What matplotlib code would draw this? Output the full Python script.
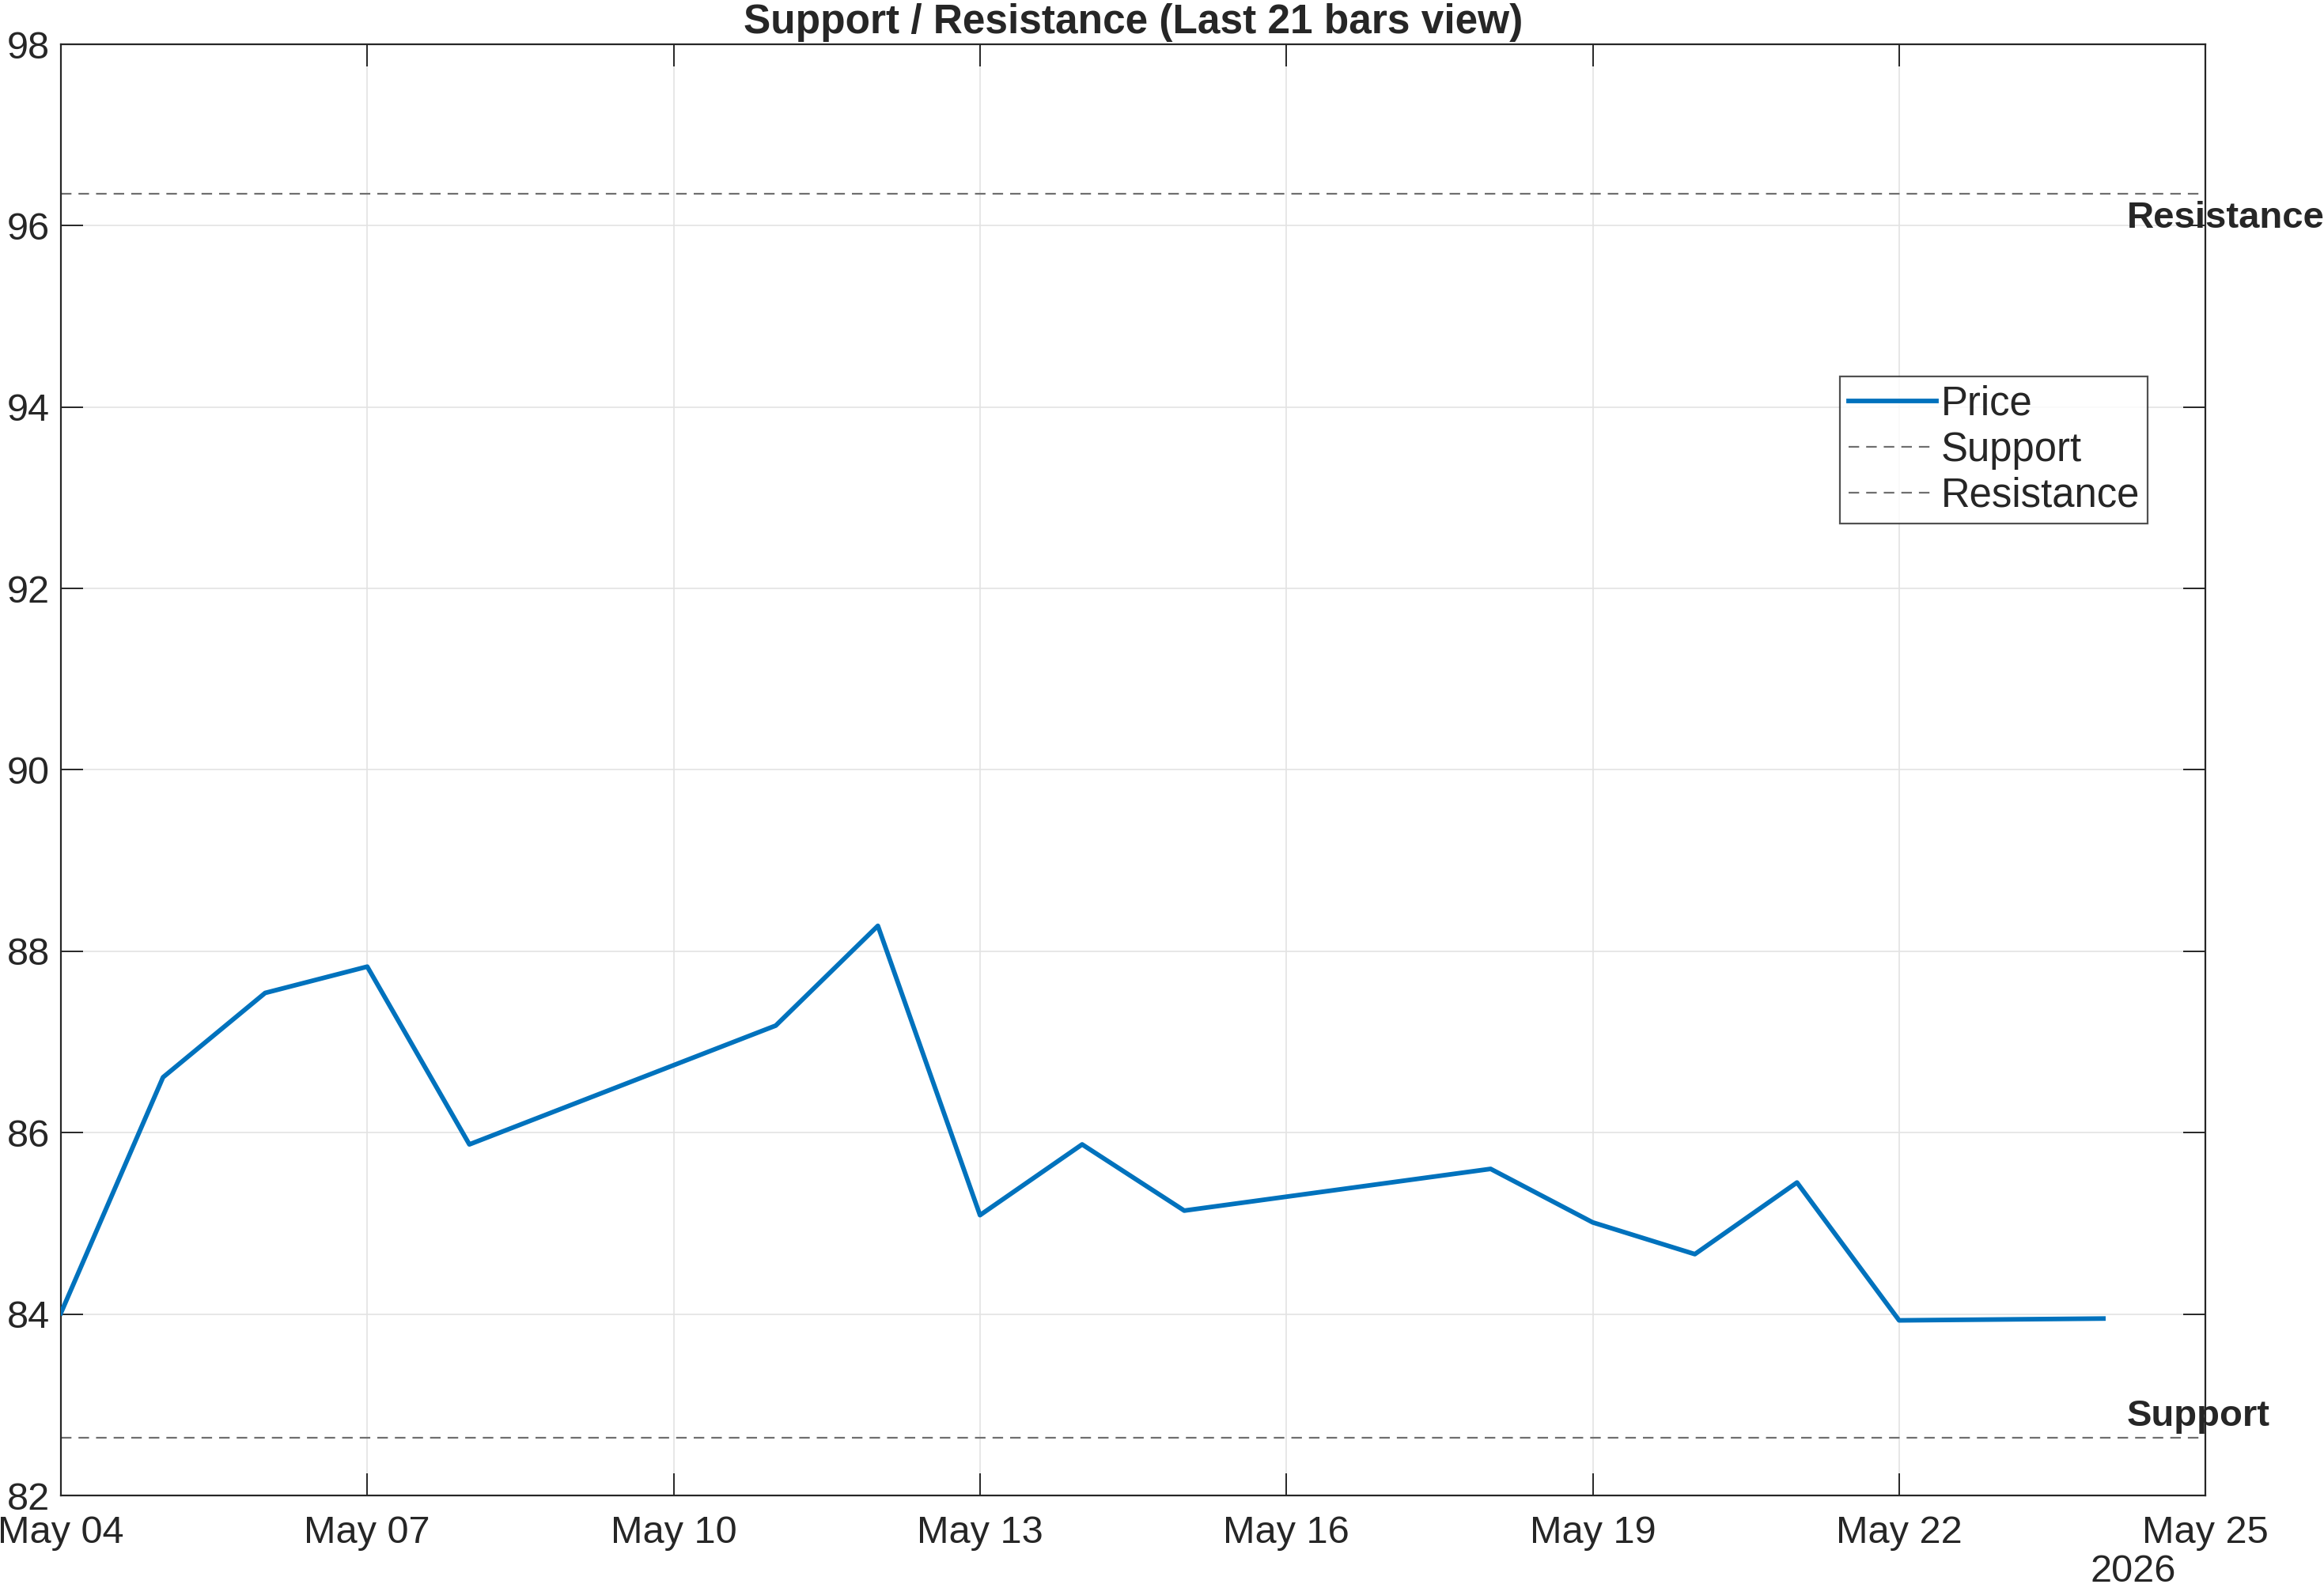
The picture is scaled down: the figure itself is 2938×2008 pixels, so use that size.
import matplotlib.pyplot as plt
import matplotlib.dates as mdates
import numpy as np
import pandas as pd

# data
dates = ['2026-05-04', '2026-05-05', '2026-05-06', '2026-05-07', '2026-05-08',
         '2026-05-11', '2026-05-12', '2026-05-13', '2026-05-14', '2026-05-15',
         '2026-05-18', '2026-05-19', '2026-05-20', '2026-05-21', '2026-05-22',
         '2026-05-24']
prices = [84.01, 86.61, 87.54, 87.83, 85.87,
          87.18, 88.28, 85.09, 85.87, 85.14,
          85.60, 85.01, 84.66, 85.45, 83.93,
          83.95]
support = 82.64
resistance = 96.35
label_x = '2026-05-24 05:30'

x = pd.to_datetime(dates)
x0 = pd.Timestamp('2026-05-04')
x1 = pd.Timestamp('2026-05-25')

plt.rcParams['font.family'] = ['Liberation Sans', 'DejaVu Sans']

fig = plt.figure(figsize=(14.69, 10.0405), dpi=200)
ax = fig.add_axes([0.0262, 0.0583, 0.9228, 0.9138])

ax.plot(x, prices, color='#0072BD', lw=2.1, label='Price', zorder=3)
ax.axhline(support, color='#6f6f6f', lw=0.8, ls=(0, (6, 4)), label='Support')
ax.axhline(resistance, color='#6f6f6f', lw=0.8, ls=(0, (6, 4)), label='Resistance')

# labels sit half outside the axes, like the reference
lx = pd.Timestamp(label_x)
ax.text(lx, resistance - 0.08, 'Resistance', fontsize=17, fontweight='bold',
        color='#262626', ha='left', va='top', clip_on=False)
ax.text(lx, support + 0.04, 'Support', fontsize=17, fontweight='bold',
        color='#262626', ha='left', va='bottom', clip_on=False)

ax.set_xlim(x0, x1)
ax.set_ylim(82, 98)
ax.set_yticks(np.arange(82, 99, 2))
ax.xaxis.set_major_locator(mdates.DayLocator(bymonthday=[4, 7, 10, 13, 16, 19, 22, 25]))
ax.xaxis.set_major_formatter(mdates.DateFormatter('%b %d'))

ax.grid(True, color='#e3e3e3', lw=0.6)
ax.set_axisbelow(True)
for s in ax.spines.values():
    s.set_color('#262626')
    s.set_linewidth(0.8)
ax.tick_params(direction='in', length=10, width=0.7, colors='#262626',
               labelsize=17.5, top=True, right=True)
ax.tick_params(axis='x', pad=9)
ax.tick_params(axis='y', pad=5)

ax.set_title('Support / Resistance (Last 21 bars view)', fontsize=18.5,
             fontweight='bold', color='#262626', pad=5)

fig.text(0.918, 0.0105, '2026', fontsize=17.5, color='#262626', ha='center', va='center')

leg = ax.legend(loc='upper right', bbox_to_anchor=(0.973, 0.771), fontsize=18.3,
                frameon=True, fancybox=False, handlelength=2.2, handletextpad=0.1,
                labelspacing=0.18, borderpad=0.2, borderaxespad=0)
leg.get_frame().set_edgecolor('#262626')
leg.get_frame().set_linewidth(0.8)
for t in leg.get_texts():
    t.set_color('#262626')

plt.savefig('out.png', dpi=200)
